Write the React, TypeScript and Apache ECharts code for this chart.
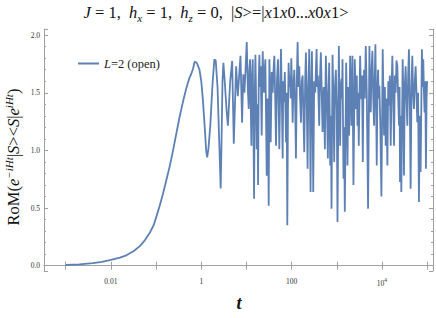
import React, { useEffect, useRef } from 'react';
import * as echarts from 'echarts';

// t = 10^tExp (positions read in decades from the picture)
const tExp = [
  -3.0, -2.7, -2.4, -2.2, -2.0, -1.8, -1.66, -1.5, -1.36, -1.25, -1.14, -1.05, -0.99, -0.92, -0.85, -0.78,
  -0.70, -0.64, -0.59, -0.53, -0.48, -0.40, -0.33, -0.27, -0.22, -0.18, -0.148, -0.10, -0.04, 0.0, 0.035,
  0.08, 0.11, 0.132, 0.16, 0.20, 0.25, 0.29, 0.32, 0.36, 0.40, 0.43, 0.45, 0.47, 0.49, 0.52, 0.56, 0.59,
  0.64, 0.684, 0.72,
  0.772, 0.809, 0.868, 0.904, 0.930, 0.956, 0.980, 1.007, 1.030, 1.051, 1.065, 1.081, 1.095, 1.110, 1.125,
  1.140, 1.155, 1.169, 1.185, 1.199, 1.214, 1.228, 1.243, 1.258, 1.272, 1.287, 1.300, 1.316, 1.338, 1.350,
  1.361, 1.375, 1.390, 1.405, 1.419, 1.434, 1.449, 1.465, 1.480, 1.493, 1.508, 1.522, 1.537, 1.560, 1.581,
  1.600, 1.618, 1.637, 1.655, 1.677, 1.699, 1.714, 1.728, 1.748, 1.765, 1.785, 1.802, 1.815, 1.831, 1.850,
  1.876, 1.890, 1.905, 1.920, 1.934, 1.950, 1.964, 1.980, 1.993, 2.008, 2.023, 2.040, 2.060, 2.078, 2.096,
  2.115, 2.133, 2.150, 2.170, 2.188, 2.207, 2.225, 2.244, 2.262, 2.280, 2.300, 2.317, 2.335, 2.354, 2.372,
  2.391, 2.405, 2.420, 2.435, 2.450, 2.465, 2.479, 2.500, 2.523, 2.538, 2.553, 2.568, 2.582, 2.596, 2.611,
  2.630, 2.648, 2.667, 2.685, 2.710, 2.737, 2.748, 2.759, 2.780, 2.803, 2.818, 2.832, 2.854, 2.870, 2.884,
  2.906, 2.925, 2.943, 2.960, 2.980, 3.000, 3.016, 3.046, 3.060, 3.075, 3.090, 3.105, 3.115, 3.127, 3.149,
  3.162, 3.178, 3.208, 3.222, 3.237, 3.255, 3.274, 3.296, 3.310, 3.325, 3.347, 3.369, 3.399, 3.414, 3.428,
  3.443, 3.458, 3.472, 3.487, 3.517, 3.530, 3.546, 3.560, 3.576, 3.590, 3.605, 3.620, 3.642, 3.664, 3.693,
  3.723, 3.738, 3.752, 3.770, 3.789, 3.808, 3.826, 3.840, 3.855, 3.870, 3.885, 3.900, 3.914, 3.928, 3.943,
  3.965, 3.988, 4.017, 4.032, 4.047, 4.065, 4.083, 4.100, 4.120, 4.140, 4.157, 4.175, 4.194, 4.212, 4.230,
  4.250, 4.267, 4.285, 4.304, 4.322, 4.341, 4.360, 4.378, 4.390, 4.400, 4.415, 4.429, 4.459, 4.473, 4.488,
  4.505, 4.525, 4.543, 4.562, 4.580, 4.598, 4.617, 4.635, 4.655, 4.672, 4.690, 4.709, 4.728, 4.746, 4.764,
  4.782, 4.800, 4.819, 4.838, 4.856, 4.885, 4.900, 4.915, 4.930, 4.944, 4.960, 4.974, 4.988, 5.000,
];

const values = [
  0.006, 0.012, 0.022, 0.034, 0.05, 0.07, 0.09, 0.125, 0.17, 0.22, 0.285, 0.355, 0.43, 0.52, 0.62, 0.73,
  0.86, 0.97, 1.07, 1.19, 1.29, 1.43, 1.54, 1.62, 1.665, 1.71, 1.77, 1.76, 1.70, 1.60, 1.445,
  1.18, 0.99, 0.94, 1.02, 1.215, 1.58, 1.79, 1.78, 1.55, 1.05, 0.67, 1.1, 1.6, 1.76, 1.6, 1.35, 1.215,
  1.6, 1.776, 1.057,
  1.73, 1.47, 1.82, 1.24, 1.66, 1.50, 1.70, 1.94, 1.55, 1.36, 1.70, 1.79, 1.40, 1.04, 1.65,
  1.79, 1.20, 0.58, 1.50, 1.83, 1.45, 1.01, 1.40, 0.70, 1.60, 1.83, 1.55, 1.73, 1.13, 1.60,
  1.86, 1.62, 1.50, 1.70, 1.79, 1.30, 0.78, 1.45, 1.20, 0.52, 1.79, 1.55, 1.07, 1.68, 1.50,
  1.70, 1.82, 1.45, 1.04, 1.62, 1.79, 1.40, 1.01, 1.55, 1.88, 1.40, 0.93, 1.60, 1.42, 1.68,
  1.07, 1.50, 0.35, 1.35, 1.76, 1.55, 1.65, 1.45, 1.80, 1.60, 1.24, 1.55, 1.70, 1.40, 0.93,
  1.60, 1.94, 1.55, 1.73, 1.45, 1.24, 1.60, 1.65, 1.30, 0.985, 1.60, 1.85, 1.45, 0.84, 1.55,
  1.88, 1.40, 0.64, 1.50, 1.86, 1.35, 0.64, 1.60, 1.50, 1.70, 1.88, 1.55, 1.65, 1.45, 1.215,
  1.65, 1.85, 1.50, 1.16, 1.55, 1.01, 1.50, 1.82, 1.45, 0.93, 1.50, 1.76, 0.87, 1.30, 0.495,
  1.83, 1.45, 0.90, 1.55, 1.70, 1.35, 0.38, 1.906, 1.45, 1.04, 1.55, 1.62, 1.45, 1.79, 0.754,
  1.20, 0.467, 1.76, 1.45, 0.87, 1.55, 1.13, 1.82, 1.55, 1.215, 1.82, 0.70, 1.79, 1.55, 1.36,
  1.65, 1.215, 1.50, 1.04, 1.82, 1.60, 1.445, 1.65, 0.90, 1.50, 1.70, 1.45, 1.906, 1.50, 0.495,
  1.906, 1.50, 1.33, 1.70, 1.863, 1.45, 1.215, 1.60, 1.92, 1.45, 0.87, 1.50, 1.70, 1.45, 1.56,
  1.20, 0.60, 1.877, 1.50, 1.13, 1.55, 1.04, 1.45, 0.87, 1.60, 1.39, 1.65, 1.04, 1.50, 1.82,
  1.45, 1.04, 1.65, 1.50, 1.78, 1.73, 1.45, 1.215, 1.55, 0.726, 1.30, 0.64, 1.79, 1.50, 0.783,
  1.55, 1.73, 1.45, 1.215, 1.65, 1.877, 1.40, 0.668, 1.55, 1.82, 1.50, 1.36, 1.60, 1.73, 1.50,
  1.244, 1.50, 0.553, 1.30, 0.812, 1.877, 1.55, 1.79, 1.50, 1.33, 1.60, 0.84, 1.45, 1.60,
];

const seriesName = 'L=2 (open)';
const xTickExps = [-2, 0, 2, 4];
const xTickTexts = ['0.01', '1', '100', '{b|10}{s|4}'];
const yTickLabels = ['0.0', '0.5', '1.0', '1.5', '2.0'];

const SERIF = '"Liberation Serif", "Times New Roman", Times, serif';
const AXIS_COLOR = '#a0a0a0';
const LABEL_COLOR = '#333333';
const LINE_COLOR = '#5e81b5';

export default function App() {
  const ref = useRef<HTMLDivElement>(null);

  useEffect(() => {
    if (!ref.current) return;
    const chart = echarts.init(ref.current, null, { renderer: 'svg' });
    const data = tExp.map((e, i) => [Math.pow(10, e), values[i]]);

    const xLabel = (v: number) => {
      const l = Math.log10(v);
      const r = Math.round(l);
      if (Math.abs(l - r) > 1e-6) return '';
      const idx = xTickExps.indexOf(r);
      return idx >= 0 ? xTickTexts[idx] : '';
    };
    const yLabel = (v: number) => {
      const k = Math.round(v / 0.5);
      if (Math.abs(v - k * 0.5) > 1e-6) return '';
      return yTickLabels[k] ?? '';
    };

    const xBase = {
      type: 'log' as const,
      logBase: 10,
      min: 3.3e-4,
      max: 1.35e5,
      axisLine: { show: true, lineStyle: { color: AXIS_COLOR, width: 1 } },
      axisTick: { show: true, inside: true, length: 4, lineStyle: { color: AXIS_COLOR } },
      splitLine: { show: false },
      minorTick: { show: false },
      minorSplitLine: { show: false },
    };
    const yBase = {
      type: 'value' as const,
      min: -0.046,
      max: 2.053,
      splitNumber: 4,
      axisLine: { show: true, lineStyle: { color: AXIS_COLOR, width: 1 } },
      axisTick: { show: true, inside: true, length: 4, lineStyle: { color: AXIS_COLOR } },
      minorTick: { show: true, splitNumber: 5, length: 2, lineStyle: { color: AXIS_COLOR } },
      splitLine: { show: false },
    };

    chart.setOption({
      animation: false,
      backgroundColor: '#ffffff',
      grid: { left: 44, right: 2, top: 29, bottom: 47, containLabel: false },
      xAxis: [
        {
          ...xBase,
          position: 'bottom',
          axisLabel: {
            show: true,
            margin: 6,
            color: LABEL_COLOR,
            fontFamily: SERIF,
            fontSize: 7.5,
            formatter: xLabel,
            showMinLabel: true,
            showMaxLabel: true,
            rich: {
              b: { fontFamily: SERIF, fontSize: 7.5, color: LABEL_COLOR, lineHeight: 10, verticalAlign: 'bottom' },
              s: { fontFamily: SERIF, fontSize: 5.5, color: LABEL_COLOR, lineHeight: 7, verticalAlign: 'top' },
            },
          },
        },
        { ...xBase, position: 'top', axisLabel: { show: false } },
      ],
      yAxis: [
        {
          ...yBase,
          position: 'left',
          axisLabel: {
            show: true,
            margin: 4,
            color: LABEL_COLOR,
            fontFamily: SERIF,
            fontSize: 7.5,
            formatter: yLabel,
          },
        },
        { ...yBase, position: 'right', axisLabel: { show: false } },
      ],
      legend: {
        show: true,
        left: 78,
        top: 57,
        padding: 0,
        icon: 'rect',
        itemWidth: 21,
        itemHeight: 2,
        itemGap: 5,
        data: [seriesName],
        formatter: () => '{i|L}{r|=2 (open)}',
        textStyle: {
          fontFamily: SERIF,
          fontSize: 12.5,
          color: '#222',
          rich: {
            i: { fontFamily: SERIF, fontStyle: 'italic', fontSize: 12.5, color: '#222' },
            r: { fontFamily: SERIF, fontSize: 12.5, color: '#222' },
          },
        },
      },
      graphic: [
        {
          type: 'text',
          x: 216,
          y: 12,
          silent: true,
          style: {
            text:
              '{i|J}{r| = 1,  }{i|h}{sub|x}{r| = 1,  }{i|h}{sub|z}{r| = 0,  |}{i|S}{r|>=|}{i|x}{r|1}{i|x}{r|0...}{i|x}{r|0}{i|x}{r|1>}',
            align: 'center',
            verticalAlign: 'middle',
            fill: '#111',
            rich: {
              r: { fontFamily: SERIF, fontSize: 16.5, lineHeight: 22, fill: '#111', color: '#111' },
              i: { fontFamily: SERIF, fontSize: 16.5, fontStyle: 'italic', lineHeight: 22, fill: '#111', color: '#111' },
              sub: { fontFamily: SERIF, fontSize: 11, fontStyle: 'italic', lineHeight: 13, verticalAlign: 'bottom', fill: '#111', color: '#111' },
            },
          },
        },
        {
          type: 'text',
          x: 13,
          y: 157,
          rotation: Math.PI / 2,
          silent: true,
          style: {
            text: '{r|RoM(}{i|e}{sup|−iHt}{r||}{i|S}{r|><}{i|S}{r||}{i|e}{sup|iHt}{r|)}',
            align: 'center',
            verticalAlign: 'middle',
            fill: '#111',
            rich: {
              r: { fontFamily: SERIF, fontSize: 16.5, lineHeight: 20, fill: '#111', color: '#111' },
              i: { fontFamily: SERIF, fontSize: 16.5, fontStyle: 'italic', lineHeight: 20, fill: '#111', color: '#111' },
              sup: { fontFamily: SERIF, fontSize: 11, fontStyle: 'italic', lineHeight: 12, verticalAlign: 'top', fill: '#111', color: '#111' },
            },
          },
        },
        {
          type: 'text',
          x: 239,
          y: 303,
          silent: true,
          style: {
            text: 't',
            font: 'italic bold 18px ' + SERIF,
            align: 'center',
            verticalAlign: 'middle',
            fill: '#111',
          },
        },
      ],
      series: [
        {
          name: seriesName,
          type: 'line',
          xAxisIndex: 0,
          yAxisIndex: 0,
          data,
          showSymbol: false,
          symbol: 'none',
          smooth: false,
          lineStyle: { color: LINE_COLOR, width: 1.8 },
          itemStyle: { color: LINE_COLOR },
          emphasis: { disabled: true },
        },
      ],
    });

    return () => chart.dispose();
  }, []);

  return (
    <div
      ref={ref}
      style={{ position: 'fixed', left: 0, top: 0, width: 436, height: 318, background: '#ffffff' }}
    />
  );
}
